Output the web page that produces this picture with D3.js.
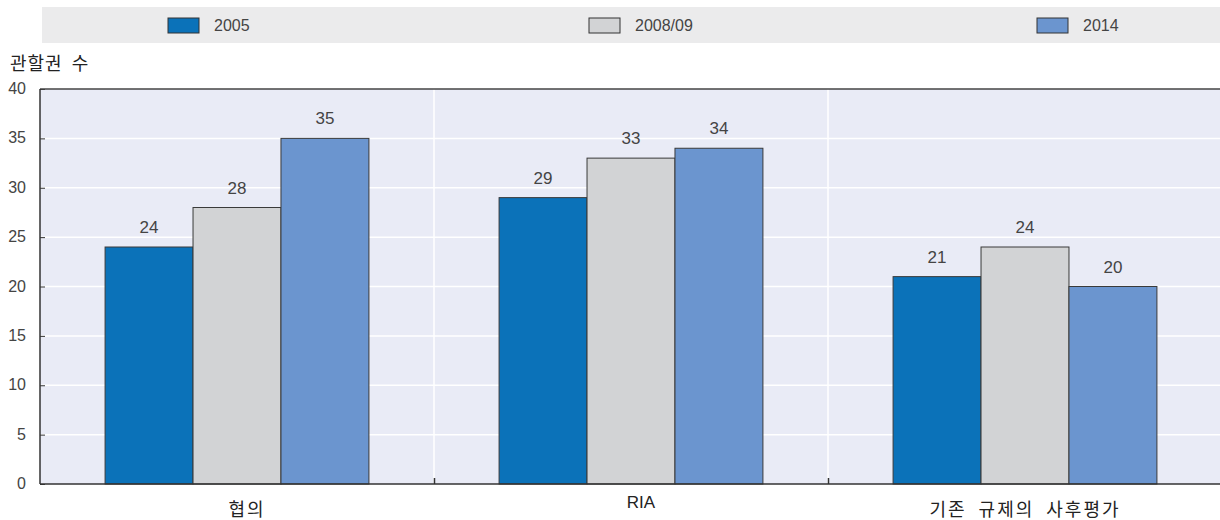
<!DOCTYPE html>
<html>
<head>
<meta charset="utf-8">
<title>관할권 수</title>
<script src="https://d3js.org/d3.v7.min.js"></script>
<style>
body { margin: 0; padding: 0; background: white; }
.num { font-family: "Liberation Sans", Arial, sans-serif; fill: #444; }
.kr { font-family: "Noto Sans CJK KR", sans-serif; fill: #222; }
</style>
</head>
<body>
<svg id="chart" width="1220" height="520"></svg>
<script>
// data
var categories = ["협의", "RIA", "기존 규제의 사후평가"];
var seriesNames = ["2005", "2008/09", "2014"];
var values2005 = [24, 29, 21];
var values2008 = [28, 33, 24];
var values2014 = [35, 34, 20];
var yTicks = [0, 5, 10, 15, 20, 25, 30, 35, 40];
var colors = ["#0b72b9", "#d2d3d5", "#6b95cf"];

var seriesValues = [values2005, values2008, values2014];
var rows = categories.map(function(c, i) {
  return { cat: c, vals: seriesNames.map(function(s, j) { return { key: s, value: seriesValues[j][i] }; }) };
});

var svg = d3.select("#chart");
var plotLeft = 40, plotRight = 1222, plotTop = 89, plotBottom = 484;

var x0 = d3.scaleBand().domain(categories).range([plotLeft, plotRight]).padding(0);
var x1 = d3.scaleBand().domain(seriesNames).range([0, x0.bandwidth()]).paddingInner(0).paddingOuter(0.74);
var y = d3.scaleLinear().domain([0, 40]).range([plotBottom, plotTop]);
var color = d3.scaleOrdinal().domain(seriesNames).range(colors);

// legend band
svg.append("rect").attr("x", 42).attr("y", 7).attr("width", 1180).attr("height", 36).attr("fill", "#ebebec");
var legendX = [168, 589, 1037];
seriesNames.forEach(function(s, i) {
  svg.append("rect").attr("x", legendX[i]).attr("y", 18).attr("width", 31).attr("height", 15)
    .attr("fill", colors[i]).attr("stroke", "#333").attr("stroke-width", 1);
  svg.append("text").attr("class", "num").attr("x", legendX[i] + 46).attr("y", 31)
    .style("font-size", "16px").text(s);
});

// plot background
svg.append("rect").attr("x", plotLeft).attr("y", plotTop).attr("width", plotRight - plotLeft).attr("height", plotBottom - plotTop)
  .attr("fill", "#e9ebf6");

// gridlines
svg.append("g").selectAll("line").data(yTicks.filter(function(d) { return d > 0 && d < 40; }))
  .enter().append("line")
  .attr("x1", plotLeft).attr("x2", plotRight)
  .attr("y1", function(d) { return y(d); }).attr("y2", function(d) { return y(d); })
  .attr("stroke", "white").attr("stroke-width", 1.5);

// group separators
svg.append("g").selectAll("line").data(categories.slice(1))
  .enter().append("line")
  .attr("x1", function(d) { return x0(d); }).attr("x2", function(d) { return x0(d); })
  .attr("y1", plotTop).attr("y2", plotBottom)
  .attr("stroke", "white").attr("stroke-width", 1.5);

// bars
var groups = svg.append("g").selectAll("g").data(rows).enter().append("g")
  .attr("transform", function(d) { return "translate(" + x0(d.cat) + ",0)"; });

groups.selectAll("rect").data(function(d) { return d.vals; }).enter().append("rect")
  .attr("x", function(d) { return x1(d.key); })
  .attr("y", function(d) { return y(d.value); })
  .attr("width", x1.bandwidth())
  .attr("height", function(d) { return plotBottom - y(d.value); })
  .attr("fill", function(d) { return color(d.key); })
  .attr("stroke", "#3a3a3a").attr("stroke-width", 1);

groups.selectAll("text").data(function(d) { return d.vals; }).enter().append("text")
  .attr("class", "num")
  .attr("x", function(d) { return x1(d.key) + x1.bandwidth() / 2; })
  .attr("y", function(d) { return y(d.value) - 14; })
  .attr("text-anchor", "middle")
  .style("font-size", "17px")
  .text(function(d) { return d.value; });

// y axis
var yAxis = d3.axisRight(y).tickValues(yTicks).tickSize(5).tickFormat("");
var gy = svg.append("g").attr("transform", "translate(" + plotLeft + ",0)").call(yAxis);
gy.select(".domain").remove();
gy.selectAll("line").attr("stroke", "#333");
svg.append("g").selectAll("text").data(yTicks).enter().append("text")
  .attr("class", "num")
  .attr("x", 26).attr("y", function(d) { return y(d) + 5; })
  .attr("text-anchor", "end")
  .style("font-size", "16px")
  .text(function(d) { return d; });

// x axis
var xAxis = d3.axisTop(d3.scaleLinear().domain([plotLeft, plotRight]).range([plotLeft, plotRight]))
  .tickValues(categories.slice(1).map(function(c) { return x0(c); })).tickSize(6).tickFormat("");
var gx = svg.append("g").attr("transform", "translate(0," + plotBottom + ")").call(xAxis);
gx.select(".domain").remove();
gx.selectAll("line").attr("stroke", "#333").attr("stroke-width", 1.5);

// frame lines
svg.append("line").attr("x1", plotLeft).attr("x2", plotRight).attr("y1", plotBottom).attr("y2", plotBottom)
  .attr("stroke", "#333").attr("stroke-width", 1.5);
svg.append("line").attr("x1", plotLeft).attr("x2", plotRight).attr("y1", plotTop).attr("y2", plotTop)
  .attr("stroke", "#444").attr("stroke-width", 1.5);
svg.append("line").attr("x1", plotLeft).attr("x2", plotLeft).attr("y1", plotTop).attr("y2", plotBottom)
  .attr("stroke", "#333").attr("stroke-width", 1.5);

// category labels (latin label uses the number font and sits higher)
svg.append("g").selectAll("text").data(categories).enter().append("text")
  .attr("class", function(d) { return d === "RIA" ? "num" : "kr"; })
  .attr("x", function(d) { return x0(d) + x0.bandwidth() / 2 + (d === "기존 규제의 사후평가" ? 0 : 10); })
  .attr("y", function(d) { return d === "RIA" ? 508 : 516; })
  .attr("text-anchor", "middle")
  .style("font-size", function(d) { return d === "RIA" ? "17px" : "18px"; })
  .style("letter-spacing", function(d) { return d === "RIA" ? "0px" : "2px"; })
  .style("word-spacing", "6px")
  .style("fill", "#222")
  .text(function(d) { return d; });

// y title
svg.append("text").attr("class", "kr").attr("x", 10).attr("y", 70)
  .style("font-size", "18px").style("letter-spacing", "1px").style("word-spacing", "4px")
  .text("관할권 수");
</script>
</body>
</html>
